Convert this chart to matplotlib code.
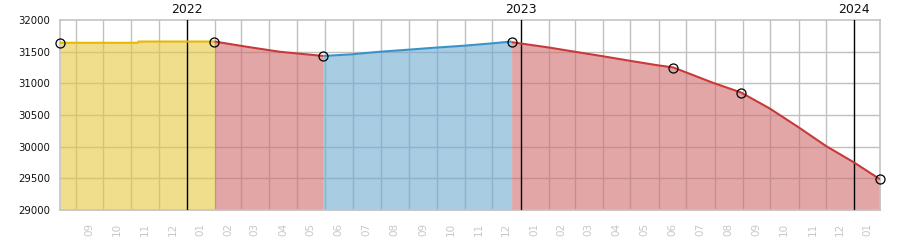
import matplotlib
matplotlib.use("Agg")
import matplotlib.pyplot as plt
import numpy as np
import datetime as dt

# Data
seg1_dates = ["2021-08-15", "2021-11-08", "2021-11-09", "2022-01-31"]
seg1_vals = [31640, 31640, 31660, 31660]

seg2_dates = ["2022-01-31", "2022-03-07", "2022-04-12", "2022-05-30"]
seg2_vals = [31660, 31578, 31499, 31432]

seg3_dates = ["2022-05-30", "2022-06-30", "2022-07-31", "2022-08-31", "2022-09-29",
              "2022-10-31", "2022-12-01", "2022-12-22"]
seg3_vals = [31432, 31458, 31499, 31531, 31563, 31594, 31632, 31660]

seg4_dates = ["2022-12-22", "2023-02-02", "2023-03-01", "2023-03-30", "2023-04-30",
              "2023-05-29", "2023-06-17", "2023-07-30", "2023-08-30", "2023-09-30",
              "2023-10-31", "2023-12-01", "2024-01-01", "2024-01-29"]
seg4_vals = [31650, 31563, 31499, 31432, 31357, 31289, 31250, 31010, 30855, 30606,
             30315, 30010, 29747, 29485]

marker_dates = ["2021-08-15", "2022-01-31", "2022-05-30", "2022-12-22",
                "2023-06-17", "2023-08-30", "2024-01-29"]
marker_vals = [31640, 31660, 31432, 31660, 31250, 30855, 29485]

year_labels = ["2022", "2023", "2024"]
y_ticks = [29000, 29500, 30000, 30500, 31000, 31500, 32000]

segments = [
    (seg1_dates, seg1_vals, "#e6c840", "#e6b800"),
    (seg2_dates, seg2_vals, "#cf6b6b", "#c83a3a"),
    (seg3_dates, seg3_vals, "#6eaad0", "#3a93c8"),
    (seg4_dates, seg4_vals, "#cf6b6b", "#c83a3a"),
]

def D(s):
    return np.datetime64(s)

fig = plt.figure(figsize=(9, 2.5), dpi=100)
ax = fig.add_axes([60/900, 1-210/250, 820/900, 190/250])

xmin, xmax = D("2021-08-15"), D("2024-01-29")
ymin, ymax = 29000, 32000

# grid beneath semi-transparent fills
months = []
m = dt.date(2021, 9, 1)
while m <= dt.date(2024, 1, 1):
    months.append(m)
    m = dt.date(m.year + (m.month // 12), m.month % 12 + 1, 1)
for mm in months:
    if mm.month == 1:
        continue
    ax.axvline(np.datetime64(mm), color="#c0c0c0", lw=1, zorder=1)
for yv in y_ticks[1:-1]:
    ax.axhline(yv, color="#c0c0c0", lw=1, zorder=1)

for dates, vals, fc, lc in segments:
    d = [D(s) for s in dates]
    ax.fill_between(d, vals, ymin, color=fc, alpha=0.6, lw=0, zorder=2)

for yl in year_labels:
    xd = D(yl + "-01-01")
    ax.axvline(xd, color="black", lw=1, zorder=3)
    ax.text(xd, ymax + 60, yl, ha="center", va="bottom", fontsize=9, color="#111111")

for dates, vals, fc, lc in segments:
    d = [D(s) for s in dates]
    ax.plot(d, vals, color=lc, lw=1.5, zorder=4, solid_capstyle="butt")

ax.plot([D(s) for s in marker_dates], marker_vals, ls="none", marker="o",
        markersize=6.5, markerfacecolor="none", markeredgecolor="black",
        markeredgewidth=0.9, zorder=5, clip_on=False)

ax.set_xlim(xmin, xmax)
ax.set_ylim(ymin, ymax)
ax.set_yticks(y_ticks)
ax.set_yticklabels([str(v) for v in y_ticks], fontsize=7.3, color="#111111")
ax.tick_params(axis="y", length=0, pad=7)
ax.set_xticks([])

# month labels centered in months
for i, mm in enumerate(months):
    start = np.datetime64(mm)
    if i + 1 < len(months):
        center = start + (np.datetime64(months[i + 1]) - start) / 2
    else:
        center = start + np.timedelta64(14, "D")
    ax.text(center, ymin - 200, f"{mm.month:02d}", rotation=90, ha="center", va="top",
            fontsize=7.5, color="#c8c8c8")

for s in ax.spines.values():
    s.set_color("#c4c4c4")
    s.set_linewidth(1.2)

fig.savefig("out.png", dpi=100)
